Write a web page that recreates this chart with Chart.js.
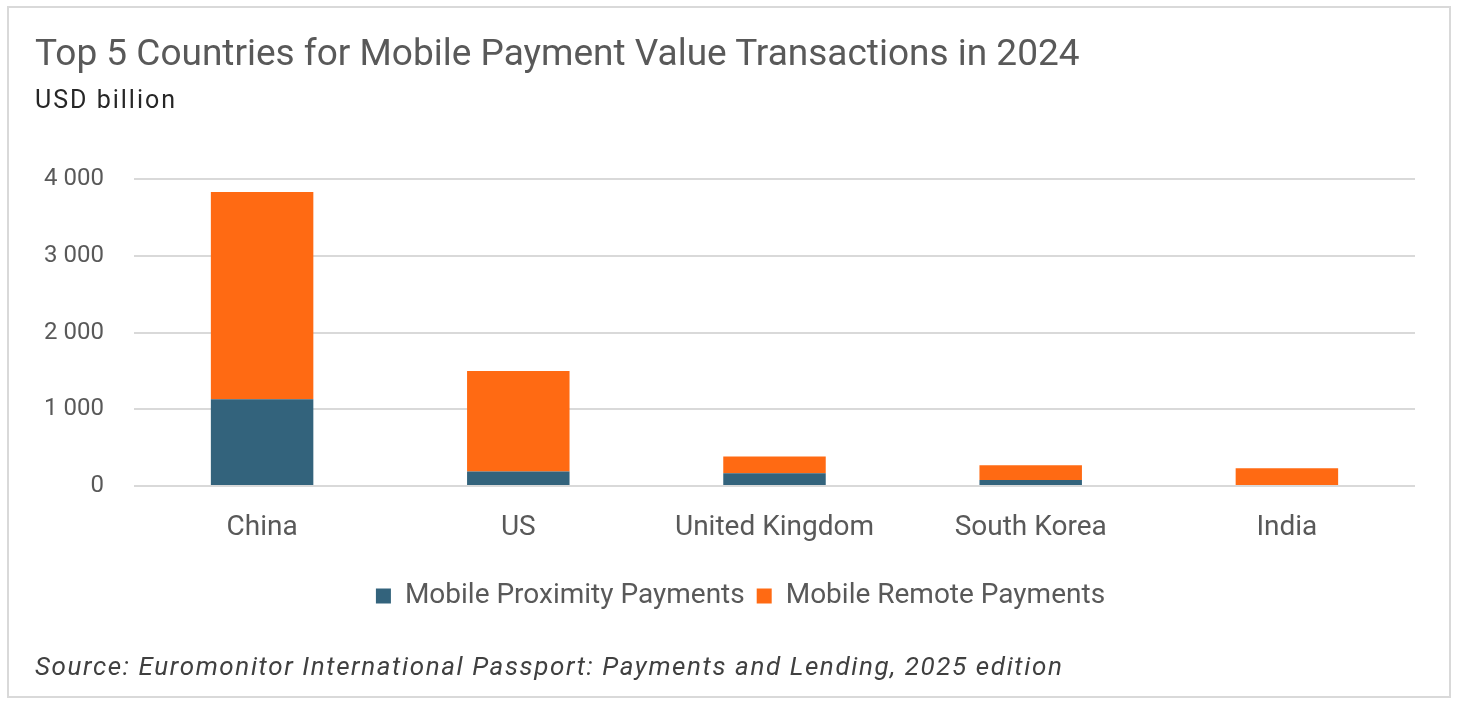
<!DOCTYPE html>
<html>
<head>
<meta charset="utf-8">
<script src="https://cdn.jsdelivr.net/npm/chart.js@4.4.1/dist/chart.umd.min.js"></script>
<style>
  html, body { margin: 0; padding: 0; background: #ffffff; }
  #wrap { position: relative; width: 1458px; height: 706px; overflow: hidden; background: #fff; }
  #frame { position: absolute; left: 7px; top: 6px; width: 1440px; height: 688px; border: 2px solid #d9d9d9; }
  #title { position: absolute; left: 35px; top: 31px; font-family: Roboto, sans-serif; font-size: 37px; color: #595959; white-space: nowrap; }
  #subtitle { position: absolute; left: 35px; top: 85px; font-family: Roboto, sans-serif; font-size: 25px; letter-spacing: 2px; color: #262626; white-space: nowrap; }
  #source { position: absolute; left: 35px; top: 651px; font-family: Roboto, sans-serif; font-style: italic; font-size: 26px; letter-spacing: 1.6px; color: #404040; white-space: nowrap; }
  #c { position: absolute; left: 0; top: 0; }
</style>
</head>
<body>
<div id="wrap">
  <div id="frame"></div>
  <canvas id="c" width="1458" height="706"></canvas>
  <div id="title">Top 5 Countries for Mobile Payment Value Transactions in 2024</div>
  <div id="subtitle">USD billion</div>
  <div id="source">Source: Euromonitor International Passport: Payments and Lending, 2025 edition</div>
</div>
<script>
const categories = ["China", "US", "United Kingdom", "South Korea", "India"];
const seriesNames = ["Mobile Proximity Payments", "Mobile Remote Payments"];
const proximityValues = [1130, 190, 166, 78, 0];
const remoteValues = [2700, 1310, 217, 193, 231];
const yTicks = [0, 1000, 2000, 3000, 4000];
const colors = ["#33637c", "#ff6a13"];

const legendShift = {
  id: "legendShift",
  beforeDraw(chart) {
    const lg = chart.legend;
    if (lg && !lg._shifted) { lg.left += 33; lg.right += 33; lg._shifted = true; }
  }
};

new Chart(document.getElementById("c"), {
  type: "bar",
  data: {
    labels: categories,
    datasets: [
      { label: seriesNames[0], data: proximityValues, backgroundColor: colors[0], barPercentage: 0.8, categoryPercentage: 0.5 },
      { label: seriesNames[1], data: remoteValues, backgroundColor: colors[1], barPercentage: 0.8, categoryPercentage: 0.5 }
    ]
  },
  plugins: [legendShift],
  options: {
    responsive: false,
    animation: false,
    layout: { padding: { left: 0, right: 43, top: 179, bottom: 86 } },
    plugins: {
      legend: {
        position: "bottom",
        labels: {
          font: { family: "Roboto, sans-serif", size: 28 }, color: "#595959",
          boxWidth: 15, boxHeight: 15, padding: 12
        }
      },
      tooltip: { enabled: false }
    },
    scales: {
      x: {
        stacked: true,
        afterFit: (s) => { s.height = 84; },
        grid: { display: false, drawTicks: false },
        border: { display: false },
        ticks: { font: { family: "Roboto, sans-serif", size: 28 }, color: "#595959", padding: 25 }
      },
      y: {
        stacked: true,
        min: 0, max: 4000,
        afterFit: (s) => { s.width = 134; },
        afterBuildTicks: (s) => { s.ticks = yTicks.map(v => ({ value: v })); },
        grid: { color: "#d9d9d9", lineWidth: 2, drawTicks: false },
        border: { display: false },
        ticks: {
          font: { family: "Roboto, sans-serif", size: 24 }, color: "#595959", padding: 30,
          callback: (v) => v === 0 ? "0" : String(v).replace(/\B(?=(\d{3})+(?!\d))/g, " ")
        }
      }
    }
  }
});
</script>
</body>
</html>
